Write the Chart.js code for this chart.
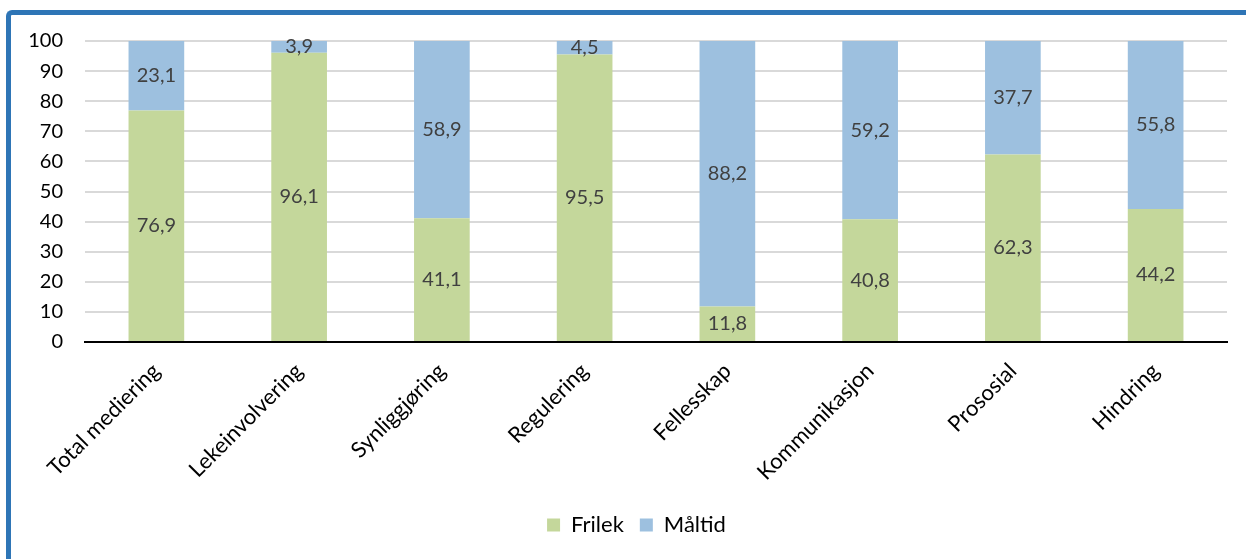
<!DOCTYPE html>
<html>
<head>
<meta charset="utf-8">
<script src="https://cdn.jsdelivr.net/npm/chart.js@4/dist/chart.umd.min.js"></script>
<style>
  html, body { margin: 0; padding: 0; background: #fff; overflow: hidden; }
  #wrap { position: absolute; left: 0; top: 0; width: 1246px; height: 559px; }
  #frame { position: absolute; left: 6px; top: 10px; width: 1300px; height: 600px;
           border-top: 5px solid #2E75B6; border-left: 5px solid #2E75B6;
           border-top-left-radius: 6px; box-sizing: border-box; pointer-events: none; }
</style>
</head>
<body>
<div id="wrap"><canvas id="c" width="1246" height="559"></canvas></div>
<div id="frame"></div>
<script>
const categories = ["Total mediering", "Lekeinvolvering", "Synliggjøring", "Regulering", "Fellesskap", "Kommunikasjon", "Prososial", "Hindring"];
const frilek = [76.9, 96.1, 41.1, 95.5, 11.8, 40.8, 62.3, 44.2];
const maltid = [23.1, 3.9, 58.9, 4.5, 88.2, 59.2, 37.7, 55.8];
const seriesNames = ["Frilek", "Måltid"];
const yTicks = [0, 10, 20, 30, 40, 50, 60, 70, 80, 90, 100];

const FONT = "Lato, 'Open Sans', sans-serif";

const labelPlugin = {
  id: 'barLabels',
  afterDatasetsDraw(chart) {
    const ctx = chart.ctx;
    ctx.save();
    ctx.font = "20px " + FONT;
    ctx.fillStyle = "#404040";
    ctx.textAlign = "center";
    ctx.textBaseline = "middle";
    chart.data.datasets.forEach((ds, di) => {
      const meta = chart.getDatasetMeta(di);
      meta.data.forEach((bar, i) => {
        const v = ds.data[i];
        const p = bar.getProps(['x', 'y', 'base'], true);
        const cy = (p.y + p.base) / 2;
        ctx.fillText(v.toFixed(1).replace('.', ','), p.x, cy);
      });
    });
    ctx.restore();
  }
};

// shift the legend box slightly right, as in the original
const legendShift = {
  id: 'legendShift',
  afterLayout(chart) {
    const lg = chart.legend;
    if (lg) { lg.left += 26; }
  }
};

new Chart(document.getElementById('c'), {
  type: 'bar',
  data: {
    labels: categories,
    datasets: [
      { label: seriesNames[0], data: frilek, backgroundColor: '#C4D79B', borderWidth: 0 },
      { label: seriesNames[1], data: maltid, backgroundColor: '#9DC0DF', borderWidth: 0 }
    ]
  },
  options: {
    responsive: false,
    animation: false,
    devicePixelRatio: 1,
    layout: { padding: { left: 20, right: 19, top: 41, bottom: 13 } },
    datasets: { bar: { barPercentage: 0.39, categoryPercentage: 1 } },
    plugins: {
      legend: {
        position: 'bottom',
        labels: {
          font: { size: 22, family: FONT },
          color: '#000',
          boxWidth: 13, boxHeight: 13,
          padding: 16
        }
      },
      tooltip: { enabled: false }
    },
    scales: {
      x: {
        stacked: true,
        grid: { display: false, drawTicks: false },
        border: { display: true, color: '#000', width: 2 },
        ticks: {
          font: { size: 22, family: FONT },
          color: '#000',
          maxRotation: 45, minRotation: 45,
          padding: 16,
          autoSkip: false
        },
        afterFit(scale) { scale.height = 156; }
      },
      y: {
        stacked: true,
        min: 0, max: 100,
        afterBuildTicks(scale) { scale.ticks = yTicks.map(v => ({ value: v })); },
        grid: {
          color: ctx => ctx.tick && ctx.tick.value === 0 ? '#000' : '#D9D9D9',
          lineWidth: 2,
          drawTicks: false
        },
        border: { display: false },
        ticks: {
          font: { size: 20, family: FONT },
          color: '#000',
          padding: 22
        },
        afterFit(scale) { scale.width = 65; }
      }
    }
  },
  plugins: [labelPlugin, legendShift]
});
</script>
</body>
</html>
